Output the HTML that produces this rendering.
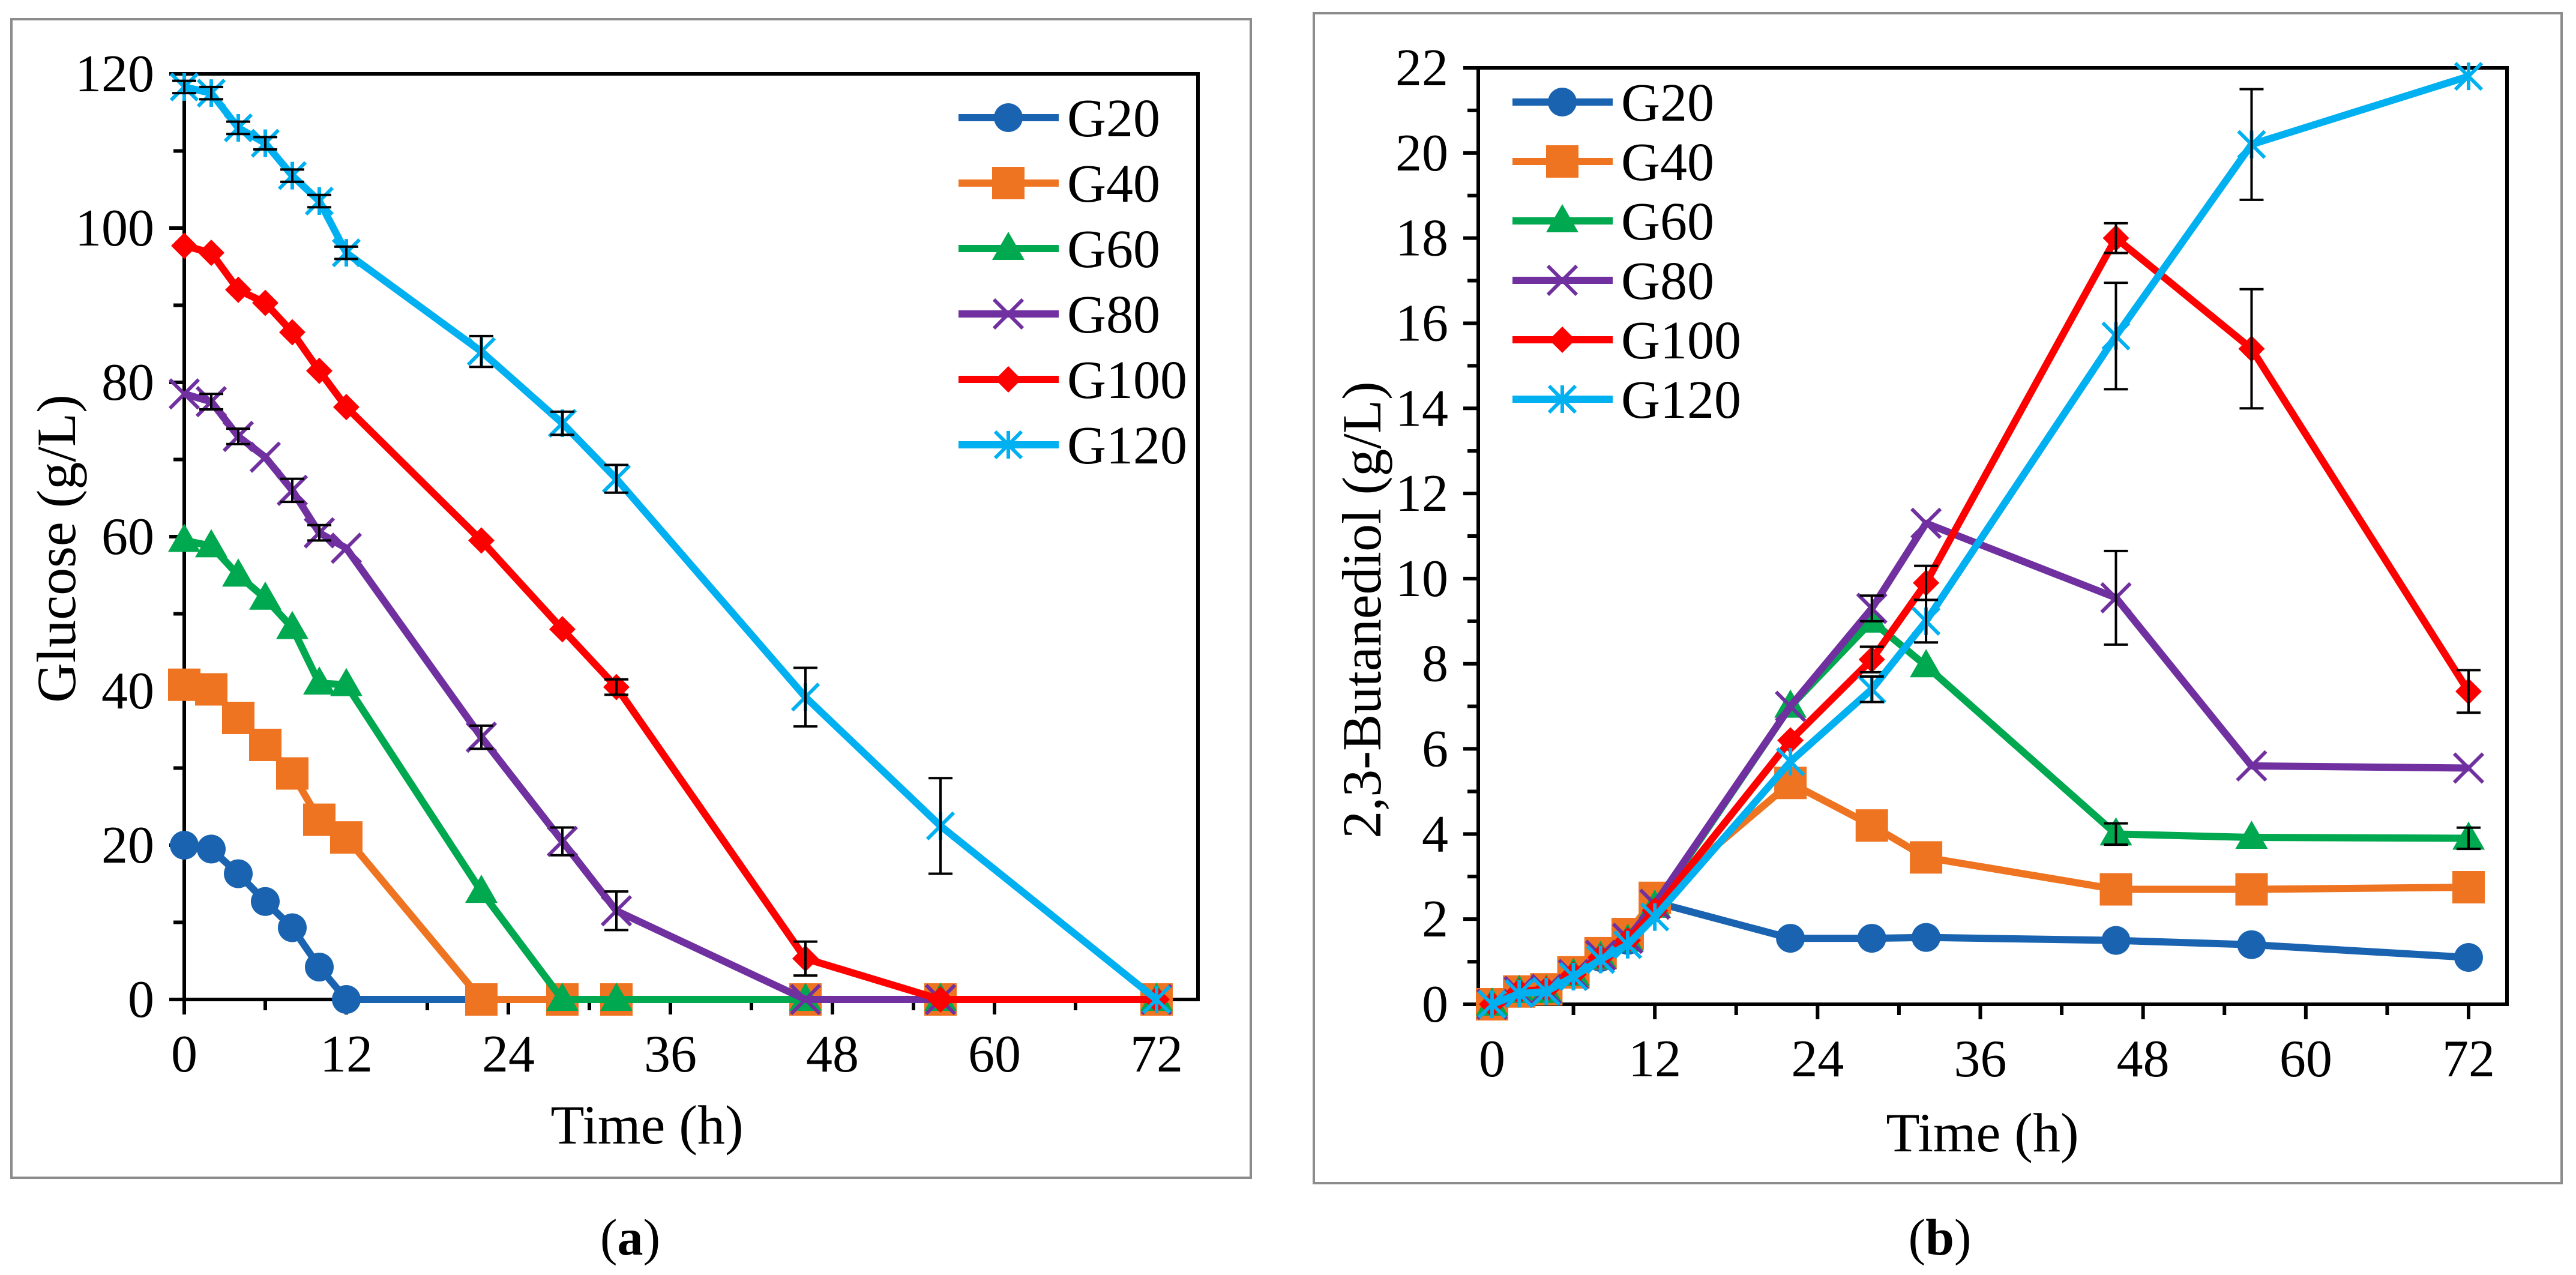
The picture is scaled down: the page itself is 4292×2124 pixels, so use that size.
<!DOCTYPE html>
<html><head><meta charset="utf-8"><style>
html,body{margin:0;padding:0;background:#fff;}
svg{display:block;font-family:"Liberation Serif","Times New Roman",serif;}
svg text{font-family:"Liberation Serif","Times New Roman",serif;}
</style></head><body>
<svg id="fig" width="4292" height="2124" viewBox="0 0 4292 2124" xmlns="http://www.w3.org/2000/svg" font-family="Liberation Serif, serif">
<rect x="0" y="0" width="4292" height="2124" fill="#fff"/>
<rect x="19" y="32" width="2065" height="1930" fill="none" stroke="#8c8c8c" stroke-width="4"/>
<rect x="2189" y="22" width="2079" height="1949" fill="none" stroke="#8c8c8c" stroke-width="4"/>
<text x="1050" y="2090" font-size="86" text-anchor="middle">(<tspan font-weight="bold">a</tspan>)</text>
<text x="3232" y="2090" font-size="86" text-anchor="middle">(<tspan font-weight="bold">b</tspan>)</text>
<g id="ga"></g><g id="gb"></g>
</svg>
<script>
const times = [0,2,4,6,8,10,12,22,28,32,46,56,72];
const seriesNames = ["G20","G40","G60","G80","G100","G120"];
const colors = ["#1a63b0","#ef7422","#00a84f","#7030a0","#ff0000","#00b0f0"];
const markers = ["circle","square","triangle","x","diamond","star"];
// Glucose (g/L)
const gluG20 = [20,19.5,16.3,12.7,9.3,4.2,0,0,0,0,0,0,0];
const gluG40 = [40.8,40.2,36.5,33,29.3,23.3,21,0,0,0,0,0,0];
const gluG60 = [59.5,58.8,55,52,48.2,41,40.8,14,0,0,0,0,0];
const gluG80 = [78.5,77.5,73,70.3,66,60.5,58.5,34,20.5,11.5,0,0,0];
const gluG100 = [97.7,96.8,92,90.3,86.5,81.5,76.8,59.5,48,40.5,5.3,0,0];
const gluG120 = [118.3,117.5,113,111,106.8,103.5,96.8,84,74.7,67.5,39.2,22.5,0];
const gluErrG80 = [0,1,1,0,1.5,1,0,1.5,1.8,2.5,0,0,0];
const gluErrG100 = [0,0,0,0,0,0,0,0,0,1,2.2,0,0];
const gluErrG120 = [0.8,0.8,0.8,0.8,0.8,0.8,0.8,2,1.5,1.8,3.8,6.2,0];
// 2,3-Butanediol (g/L)
const bdoG20 = [0,0.3,0.35,0.7,1.1,1.5,2.4,1.55,1.55,1.57,1.5,1.4,1.1];
const bdoG40 = [0,0.3,0.35,0.75,1.2,1.65,2.5,5.2,4.2,3.45,2.7,2.7,2.75];
const bdoG60 = [0,0.3,0.3,0.7,1.1,1.5,2.3,7.0,9.0,7.95,4.0,3.92,3.9];
const bdoG80 = [0,0.3,0.35,0.7,1.15,1.55,2.35,7.0,9.3,11.3,9.55,5.6,5.55];
const bdoG100 = [0,0.3,0.35,0.7,1.1,1.5,2.2,6.2,8.1,9.9,18.0,15.4,7.35];
const bdoG120 = [0,0.25,0.3,0.65,1.05,1.4,2.05,5.7,7.4,9.0,15.7,20.2,21.8];
const bdoErrG60 = [0,0,0,0,0,0,0,0,0,0,0.25,0,0.25];
const bdoErrG80 = [0,0,0,0,0,0,0,0,0.3,0,1.1,0,0];
const bdoErrG100 = [0,0,0,0,0,0,0,0,0.3,0.4,0.35,1.4,0.5];
const bdoErrG120 = [0,0,0,0,0,0,0,0,0.3,0.5,1.25,1.3,0];
const xTicks = [0,12,24,36,48,60,72];
const gluTicks = [0,20,40,60,80,100,120];
const bdoTicks = [0,2,4,6,8,10,12,14,16,18,20,22];

const NS="http://www.w3.org/2000/svg";
function el(parent,tag,attrs){const e=document.createElementNS(NS,tag);for(const k in attrs)e.setAttribute(k,attrs[k]);parent.appendChild(e);return e;}

function drawChart(g,cfg){
  const X=t=>cfg.x0+t*(cfg.x72-cfg.x0)/72;
  const Y=v=>cfg.y0+v*(cfg.yTop-cfg.y0)/cfg.yMax;
  const fr=el(g,'rect',{x:cfg.left,y:cfg.yTop,width:cfg.right-cfg.left,height:cfg.y0-cfg.yTop,fill:'none',stroke:'#000','stroke-width':6});
  
  
  for(let t=0;t<=72;t+=6){
    const major=t%12===0;
    const tk=el(g,'line',{x1:X(t),x2:X(t),y1:cfg.y0,y2:cfg.y0+(major?25:18),stroke:'#000','stroke-width':6});
    
    
  }
  xTicks.forEach(t=>{
    const tx=el(g,'text',{x:X(t),y:cfg.y0+120,'font-size':88,'text-anchor':'middle'});
    tx.textContent=t;
    
    
  });
  const step=cfg.ticks[1]-cfg.ticks[0];
  for(let v=0;v<=cfg.yMax+1e-9;v+=step/2){
    const major=Math.abs(v/step-Math.round(v/step))<1e-6;
    const tk=el(g,'line',{x1:cfg.left-(major?25:18),x2:cfg.left,y1:Y(v),y2:Y(v),stroke:'#000','stroke-width':6});
    
    
  }
  cfg.ticks.forEach(v=>{
    const tx=el(g,'text',{x:cfg.left-50,y:Y(v)+29,'font-size':88,'text-anchor':'end'});
    tx.textContent=v;
    
    
  });
  const xt=el(g,'text',{x:cfg.xTitleX,y:cfg.xTitleY,'font-size':92,'text-anchor':'middle'});
  xt.textContent='Time (h)';
  
  
  const yt=el(g,'text',{x:0,y:0,'font-size':92,'text-anchor':'middle',transform:`translate(${cfg.yTitleX},${cfg.yTitleY}) rotate(-90)`});
  yt.textContent=cfg.yTitle;
  
  
  cfg.series.forEach((vals,i)=>{
    const sg=el(g,'g',{});
    
    
    const pts=vals.map((v,j)=>X(times[j])+','+Y(v)).join(' ');
    const pl=el(sg,'polyline',{points:pts,fill:'none',stroke:colors[i],'stroke-width':12,'stroke-linejoin':'round'});
    
    
    vals.forEach((v,j)=>{
      const m=drawMarker(sg,markers[i],X(times[j]),Y(v),colors[i]);
      
      
    });
    const err=cfg.errs[i];
    if(err) err.forEach((e,j)=>{
      if(!e) return;
      const cx=X(times[j]),y1=Y(vals[j]+e),y2=Y(Math.max(0,vals[j]-e));
      const eb=el(sg,'path',{d:`M${cx},${y1}V${y2}M${cx-20},${y1}H${cx+20}M${cx-20},${y2}H${cx+20}`,stroke:'#000','stroke-width':4,fill:'none'});
      
      
    });
  });
  seriesNames.forEach((n,i)=>{
    const lg=el(g,'g',{});
    
    
    const y=cfg.legY+i*cfg.legDy;
    el(lg,'line',{x1:cfg.legX,x2:cfg.legX+167,y1:y,y2:y,stroke:colors[i],'stroke-width':12});
    drawMarker(lg,markers[i],cfg.legX+83,y,colors[i]);
    const t=el(lg,'text',{x:cfg.legX+181,y:y+31,'font-size':90});
    t.textContent=n;
  });
}
function drawMarker(g,type,x,y,c){
  if(type==='circle') return el(g,'circle',{cx:x,cy:y,r:24,fill:c});
  if(type==='square') return el(g,'rect',{x:x-27,y:y-27,width:54,height:54,fill:c});
  if(type==='triangle') return el(g,'polygon',{points:`${x},${y-28} ${x+27},${y+19} ${x-27},${y+19}`,fill:c});
  if(type==='diamond') return el(g,'polygon',{points:`${x},${y-22} ${x+22},${y} ${x},${y+22} ${x-22},${y}`,fill:c});
  if(type==='x') return el(g,'path',{d:`M${x-24},${y-24}L${x+24},${y+24}M${x-24},${y+24}L${x+24},${y-24}`,stroke:c,'stroke-width':6,fill:'none'});
  return el(g,'path',{d:`M${x-22},${y-22}L${x+22},${y+22}M${x-22},${y+22}L${x+22},${y-22}M${x},${y-23}V${y+23}`,stroke:c,'stroke-width':6,fill:'none'});
}
drawChart(document.getElementById('ga'),{left:307,right:1996,x0:307,x72:1927,y0:1665,yTop:123,yMax:120,ticks:gluTicks,
  series:[gluG20,gluG40,gluG60,gluG80,gluG100,gluG120],errs:[null,null,null,gluErrG80,gluErrG100,gluErrG120],
  yTitle:'Glucose (g/L)',yTitleX:125,yTitleY:914,xTitleX:1078,xTitleY:1905,legX:1597,legY:196,legDy:109});
drawChart(document.getElementById('gb'),{left:2463,right:4177,x0:2486,x72:4113,y0:1673,yTop:113,yMax:22,ticks:bdoTicks,
  series:[bdoG20,bdoG40,bdoG60,bdoG80,bdoG100,bdoG120],errs:[null,null,bdoErrG60,bdoErrG80,bdoErrG100,bdoErrG120],
  yTitle:'2,3-Butanediol (g/L)',yTitleX:2300,yTitleY:1016,xTitleX:3303,xTitleY:1918,legX:2520,legY:170,legDy:99});
</script>
</body></html>
